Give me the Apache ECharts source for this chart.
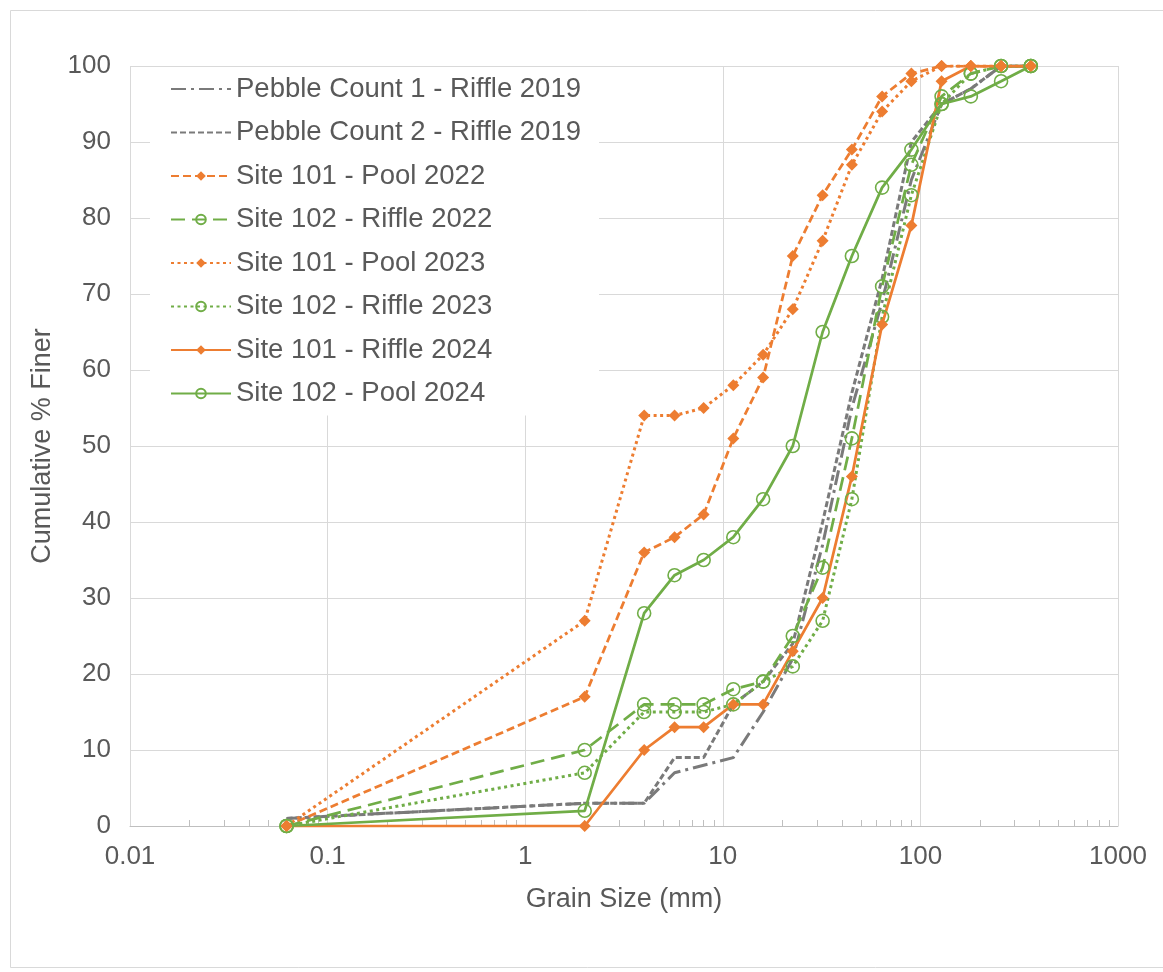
<!DOCTYPE html>
<html>
<head>
<meta charset="utf-8">
<title>Grain Size Distribution</title>
<script src="https://cdn.jsdelivr.net/npm/echarts@6/dist/echarts.min.js"></script>
<style>
    html,body{
        margin: 0;
        padding: 0;
        background: #fff;
    }
    #chart{
        width: 1163px;
        height: 972px;
    }
</style>
</head>
<body>
<div id="chart"></div>
<script>
// sieve sizes (mm)
const sizes = [0.062, 2, 4, 5.7, 8, 11.3, 16, 22.6, 32, 45, 64, 90, 128, 180, 256, 362]

// cumulative % finer for each sample
const pebble1Riffle2019 = [1, 3, 3, 7, 8, 9, 15, 22, 37, 55, 69, 85, 95, 97, 100, 100]
const pebble2Riffle2019 = [1, 3, 3, 9, 9, 16, 19, 24, 40, 57, 72, 90, 95, 97, 100, 100]
const site101Pool2022 = [0, 17, 36, 38, 41, 51, 59, 75, 83, 89, 96, 99, 100, 100, 100, 100]
const site102Riffle2022 = [0, 10, 16, 16, 16, 18, 19, 25, 34, 51, 71, 87, 96, 99, 100, 100]
const site101Pool2023 = [0, 27, 54, 54, 55, 58, 62, 68, 77, 87, 94, 98, 100, 100, 100, 100]
const site102Riffle2023 = [0, 7, 15, 15, 15, 16, 19, 21, 27, 43, 67, 83, 95, 99, 100, 100]
const site101Riffle2024 = [0, 0, 10, 13, 13, 16, 16, 23, 30, 46, 66, 79, 98, 100, 100, 100]
const site102Pool2024 = [0, 2, 28, 33, 35, 38, 43, 50, 65, 75, 84, 89, 95, 96, 98, 100]

const yTicks = [0, 10, 20, 30, 40, 50, 60, 70, 80, 90, 100]
const xMinorTicks = []
for (let d = 0.01; d < 1000; d *= 10) {
    for (let k = 2; k <= 9; k++) {
        xMinorTicks.push(+(k * d).toPrecision(3))
    }
}

const orange = '#ED7D31'
const green = '#70AD47'
const grey = '#7A7A7A'
const textColor = '#595959'
const font = "'Liberation Sans', Arial, sans-serif"

function pairs(values){
    return sizes.map((s, i) => [s, values[i]])
}

function makeSeries(name, values, color, dash, marker, width){
    const s = {
        name: name,
        type: 'line',
        data: pairs(values),
        lineStyle: {color: color, width: width || 2.75, type: dash},
        emphasis: {disabled: true},
        z: 3
    }
    if (marker == 'diamond') {
        s.symbol = 'diamond'
        s.symbolSize = 12
        s.itemStyle = {color: color, borderWidth: 0}
    } else if (marker == 'circle') {
        s.symbol = 'circle'
        s.symbolSize = 13
        s.itemStyle = {color: 'rgba(255,255,255,0)', borderColor: color, borderWidth: 1.6}
    } else {
        s.symbol = 'none'
        s.showSymbol = false
        s.itemStyle = {color: color}
    }
    return s
}

const noMarker = {color: 'rgba(0,0,0,0)', borderWidth: 0, opacity: 0}

const chart = echarts.init(document.getElementById('chart'))
chart.setOption({
    animation: false,
    backgroundColor: '#fff',
    textStyle: {fontFamily: font},
    graphic: [{
        type: 'rect',
        left: 8,
        top: 8,
        shape: {width: 1170, height: 957},
        style: {fill: 'none', stroke: '#d9d9d9', lineWidth: 1},
        silent: true,
        z: -10
    }],
    grid: {
        left: 130,
        right: 45,
        top: 66,
        bottom: 146,
        containLabel: false
    },
    legend: {
        orient: 'vertical',
        left: 150,
        top: 67,
        padding: [8, 18, 8, 20],
        itemGap: 15.5,
        itemWidth: 60,
        itemHeight: 12,
        backgroundColor: '#fff',
        z: 10,
        textStyle: {color: textColor, fontSize: 27.5, fontFamily: font},
        data: [
            {name: 'Pebble Count 1 - Riffle 2019', itemStyle: noMarker},
            {name: 'Pebble Count 2 - Riffle 2019', itemStyle: noMarker},
            'Site 101 - Pool 2022',
            'Site 102 - Riffle 2022',
            'Site 101 - Pool 2023',
            'Site 102 - Riffle 2023',
            'Site 101 - Riffle 2024',
            'Site 102 - Pool 2024'
        ]
    },
    xAxis: [
        {
            type: 'log',
            logBase: 10,
            min: 0.01,
            max: 1000,
            name: 'Grain Size (mm)',
            nameLocation: 'middle',
            nameGap: 60,
            nameTextStyle: {color: textColor, fontSize: 27, fontFamily: font},
            axisLine: {show: true, lineStyle: {color: '#bfbfbf', width: 1}},
            axisTick: {show: false},
            axisLabel: {
                color: textColor,
                fontSize: 26,
                margin: 18,
                formatter: function(v){ return String(+v.toPrecision(3)) }
            },
            splitLine: {show: true, lineStyle: {color: '#d9d9d9', width: 1}}
        },
        {
            type: 'log',
            logBase: 10,
            min: 0.01,
            max: 1000,
            position: 'bottom',
            axisLine: {show: false},
            axisLabel: {show: false},
            splitLine: {show: false},
            axisTick: {
                show: true,
                inside: true,
                length: 6,
                customValues: xMinorTicks,
                lineStyle: {color: '#bfbfbf', width: 1}
            }
        }
    ],
    yAxis: {
        type: 'value',
        min: 0,
        max: 100,
        interval: 10,
        name: 'Cumulative % Finer',
        nameLocation: 'middle',
        nameGap: 74,
        nameTextStyle: {color: textColor, fontSize: 27, fontFamily: font},
        axisLine: {show: false},
        axisTick: {show: false},
        axisLabel: {
            color: textColor,
            fontSize: 26,
            margin: 19,
            customValues: yTicks
        },
        splitLine: {show: true, lineStyle: {color: '#d9d9d9', width: 1}}
    },
    series: [
        makeSeries('Pebble Count 1 - Riffle 2019', pebble1Riffle2019, grey, [15, 5, 3, 5], 'none', 3),
        makeSeries('Pebble Count 2 - Riffle 2019', pebble2Riffle2019, grey, [6, 3], 'none', 3),
        makeSeries('Site 101 - Pool 2022', site101Pool2022, orange, [8, 4], 'diamond'),
        makeSeries('Site 102 - Riffle 2022', site102Riffle2022, green, [14, 7], 'circle'),
        makeSeries('Site 101 - Pool 2023', site101Pool2023, orange, [3, 3.5], 'diamond', 3),
        makeSeries('Site 102 - Riffle 2023', site102Riffle2023, green, [3, 3.5], 'circle', 3),
        makeSeries('Site 101 - Riffle 2024', site101Riffle2024, orange, 'solid', 'diamond'),
        makeSeries('Site 102 - Pool 2024', site102Pool2024, green, 'solid', 'circle')
    ]
})
</script>
</body>
</html>
